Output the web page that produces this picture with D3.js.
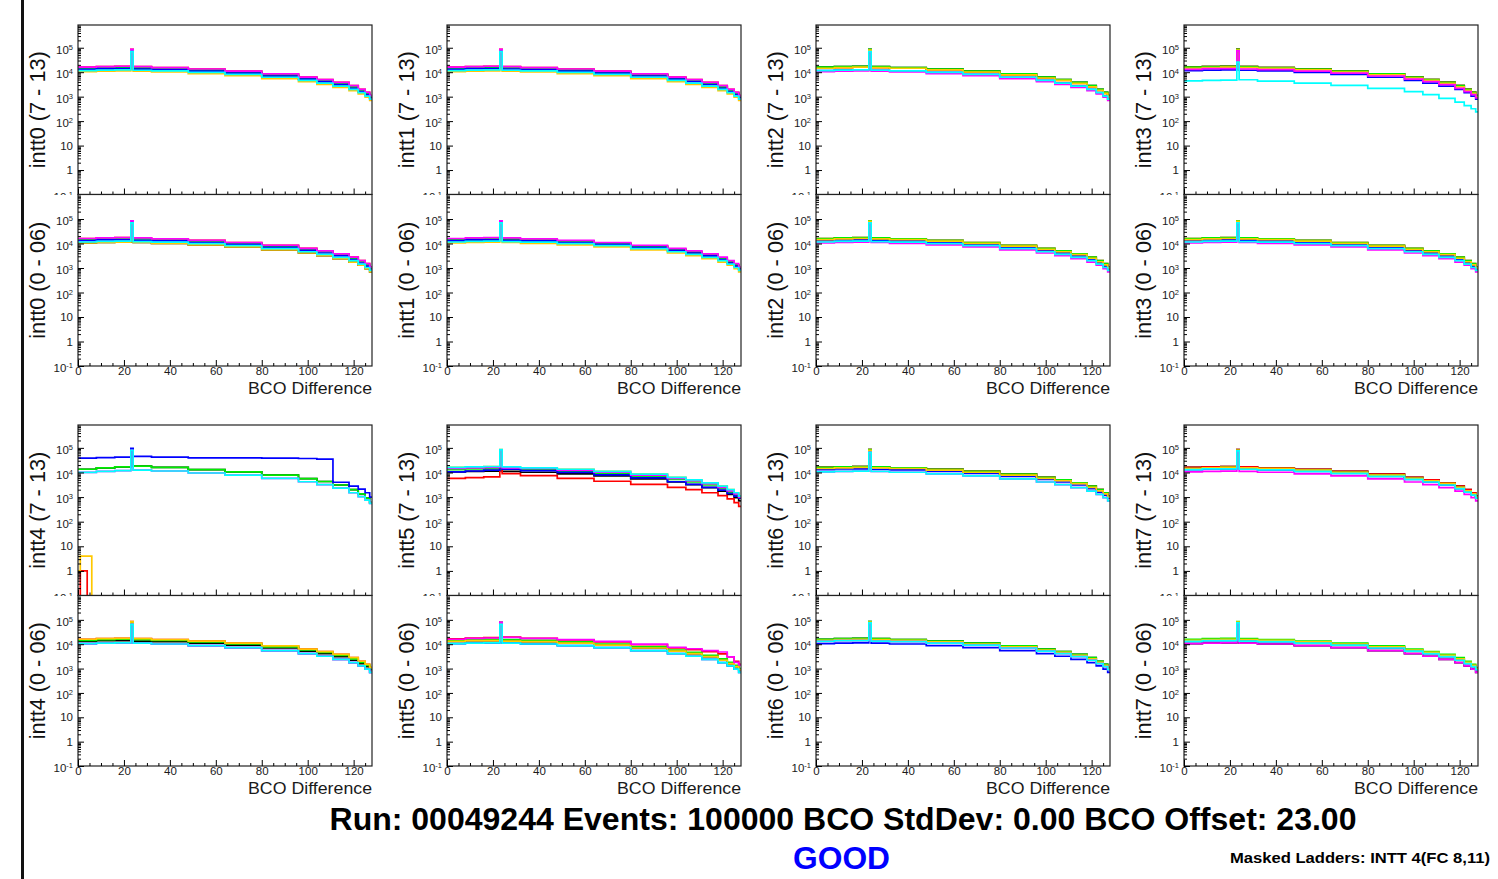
<!DOCTYPE html>
<html><head><meta charset="utf-8">
<script src="https://cdn.jsdelivr.net/npm/d3@7"></script>
<style>
body{margin:0;background:#fff}
svg{display:block}
text{font-family:"Liberation Sans",Arial,Helvetica,sans-serif}
</style>
</head><body><svg id="c" width="1498" height="879"></svg>
<script>
// ---------------- DATA ----------------
const modules = ["intt0","intt1","intt2","intt3","intt4","intt5","intt6","intt7"];
const halves = ["(7 - 13)","(0 - 06)"];
const seriesColors = ["#000000","#ff0000","#00ee00","#0000ff","#ffc800","#ff00ff","#00ffff"];
const xTickValues = [0,20,40,60,80,100,120];
const yTickExps = [-1,0,1,2,3,4,5];

// shared BCO-difference bin edges (variable width, spike bin 23)
const binEdges = [0, 8, 16, 23, 24, 32, 48, 64, 80, 96, 104, 111, 118, 122, 125, 127, 128];
const pHigh  = [16000,17000,17500,85000,17000,15500,13500,11000,8500,6300,5000,3800,2800,2000,1500,1100];
const pUpper = [14500,15500,16000,80000,15500,14500,12500,10200,7800,5800,4600,3500,2500,1800,1350,1000];
const pMid   = [13000,14000,14000,75000,13500,12800,11000,9200,7000,5200,4100,3100,2200,1600,1200,900];
const pLower = [11500,12200,12500,70000,12000,11300,9800,8200,6200,4600,3600,2700,2000,1450,1050,800];
const pLow   = [10500,11000,11300,65000,11000,10200,8800,7300,5500,4100,3200,2400,1750,1300,950,700];
const intt3UpperCyan = [4400,4600,4700,26000,4900,4300,3600,2900,2200,1600,1200,850,600,430,320,240];
const intt4UpperBlue = [38000,40000,42000,95000,45000,42000,39000,39000,38000,37000,35000,4000,2800,2100,1500,1000];
const intt4UpperMain = [13500,15500,17000,75000,18000,16000,13000,10500,7800,5600,4300,3100,2000,1350,900,600];
const intt4UpperLow  = [10000,11000,12000,80000,12500,11500,9500,7800,5800,4200,3200,2300,1500,1050,750,550];
const intt5UpperRed  = [5800,6200,6600,15000,9000,7500,5800,4400,3300,2500,2000,1500,1150,850,600,420];
const intt5UpperBlue = [10500,11500,12500,20000,13500,12000,10000,8000,6000,4200,3300,2500,1900,1400,1100,900];
const intt5LowerRed  = [16500,18000,18500,70000,19500,17500,15000,12500,9500,7000,6000,5000,4000,3000,2000,1500];
const intt5LowerMagenta = [16000,17500,18000,80000,19000,17500,15500,13000,10000,7500,6500,5500,4800,3000,1800,1400];
// masked ladders (intt4 FC 8 and FC 11): almost empty, fine bins near 0
const lowBinEdges = [0, 1, 2, 3, 4, 5, 6, 128];
const intt4UpperRed    = [0, 1, 1, 1, 0, 0, 0];
const intt4UpperYellow = [1, 4, 4, 4, 4, 4, 0];

// per panel: black, red, green, blue, yellow, magenta, cyan
const intt0Upper = [pMid, pHigh, pUpper, pMid, pLow, pHigh, pLower];
const intt0Lower = [pLow, pHigh, pUpper, pMid, pLow, pHigh, pLower];
const intt1Upper = [pUpper, pHigh, pUpper, pMid, pLow, pHigh, pLower];
const intt1Lower = [pMid, pUpper, pUpper, pMid, pLow, pHigh, pLower];
const intt2Upper = [pHigh, pUpper, pHigh, pLower, pUpper, pLow, pLower];
const intt2Lower = [pUpper, pHigh, pHigh, pMid, pUpper, pLow, pLower];
const intt3Upper = [pHigh, pHigh, pHigh, pLower, pUpper, pMid, intt3UpperCyan];
const intt3Lower = [pUpper, pHigh, pHigh, pMid, pUpper, pLow, pLower];
const intt4Upper = [intt4UpperMain, intt4UpperRed, intt4UpperMain, intt4UpperBlue, intt4UpperYellow, intt4UpperLow, intt4UpperLow];
const intt4Lower = [pMid, pHigh, pUpper, pLow, pHigh, pLow, pLow];
const intt5Upper = [pLow, intt5UpperRed, pMid, intt5UpperBlue, pHigh, pUpper, pHigh];
const intt5Lower = [pMid, intt5LowerRed, pUpper, pLow, pMid, intt5LowerMagenta, pLow];
const intt6Upper = [pHigh, pHigh, pHigh, pMid, pUpper, pLow, pLow];
const intt6Lower = [pHigh, pUpper, pHigh, pLow, pUpper, pMid, pMid];
const intt7Upper = [pHigh, pHigh, pUpper, pMid, pUpper, pLow, pMid];
const intt7Lower = [pLow, pUpper, pHigh, pMid, pUpper, pLow, pMid];

const upperPanels = [intt0Upper,intt1Upper,intt2Upper,intt3Upper,intt4Upper,intt5Upper,intt6Upper,intt7Upper];
const lowerPanels = [intt0Lower,intt1Lower,intt2Lower,intt3Lower,intt4Lower,intt5Lower,intt6Lower,intt7Lower];

const titleText = "Run: 00049244 Events: 100000 BCO StdDev: 0.00 BCO Offset: 23.00";
const statusText = "GOOD";
const maskedText = "Masked Ladders: INTT 4(FC 8,11)";

// ---------------- LAYOUT ----------------
const colLeft = [78, 447, 816, 1184];
const padW = 294;
const rows = [{top:25, mid:194.5, bottom:366}, {top:425, mid:595.5, bottom:766}];
const yMin = 0.1, yMaxUpper = 8.5e5, yMaxLower = 1e6;

const svg = d3.select("#c");
svg.append("rect").attr("width",1498).attr("height",879).attr("fill","#fff");
svg.append("rect").attr("x",21).attr("y",0).attr("width",3).attr("height",879).attr("fill","#111");

let clipId = 0;
function drawPad(left, top, bottom, yMax, series, title, isLower) {
  const g = svg.append("g");
  if (isLower) {
    g.append("rect").attr("x", left - 32).attr("y", top + 0.5)
      .attr("width", padW + 33).attr("height", bottom - top + 30).attr("fill", "#fff");
  }
  const xs = d3.scaleLinear().domain([0,128]).range([left, left + padW]);
  const ys = d3.scaleLog().domain([yMin, yMax]).range([bottom, top]);
  const cid = "clip" + (clipId++);
  g.append("clipPath").attr("id", cid).append("rect")
    .attr("x", left).attr("y", top).attr("width", padW).attr("height", bottom - top);

  const hg = g.append("g").attr("clip-path", `url(#${cid})`);
  series.forEach((vals, k) => {
    const edges = vals.length === lowBinEdges.length - 1 ? lowBinEdges : binEdges;
    let d = "";
    vals.forEach((v, j) => {
      const y = v > 0 ? ys(v) : bottom + 5;
      const x0 = xs(edges[j]), x1 = xs(edges[j + 1]);
      d += (j === 0 ? `M${x0},${y}` : `V${y}`) + `H${x1}`;
    });
    hg.append("path").attr("d", d).attr("fill", "none")
      .attr("stroke", seriesColors[k]).attr("stroke-width", 1.7);
  });

  // frame
  g.append("rect").attr("x", left).attr("y", top).attr("width", padW).attr("height", bottom - top)
    .attr("fill", "none").attr("stroke", "#222").attr("stroke-width", 1.2);

  // x axis
  const minorX = d3.range(0, 128, 5).filter(v => v % 20 !== 0);
  const gx = g.append("g").attr("transform", `translate(0,${bottom})`).style("color", "#000");
  gx.call(d3.axisBottom(xs).tickValues(minorX).tickSize(-3).tickFormat(""));
  const gx2 = g.append("g").attr("transform", `translate(0,${bottom})`).style("color", "#000");
  gx2.call(d3.axisBottom(xs).tickValues(xTickValues).tickSize(-6).tickPadding(1)
    .tickFormat(isLower ? d3.format("d") : () => ""));
  [gx, gx2].forEach(a => a.select(".domain").remove());
  gx2.selectAll("text").attr("font-size", "11.5px").attr("fill", "#1a1a1a")
    .attr("font-family", "'Liberation Sans',Arial,sans-serif");

  // y axis
  const minorY = [];
  for (let e = -1; e <= 6; e++) for (let m = 2; m <= 9; m++) {
    const v = m * Math.pow(10, e);
    if (v > yMin && v < yMax) minorY.push(v);
  }
  const gy = g.append("g").attr("transform", `translate(${left},0)`).style("color", "#000");
  gy.call(d3.axisLeft(ys).tickValues(minorY).tickSize(-3).tickFormat(""));
  const gy2 = g.append("g").attr("transform", `translate(${left},0)`).style("color", "#000");
  gy2.call(d3.axisLeft(ys).tickValues(yTickExps.map(e => Math.pow(10, e))).tickSize(-6).tickPadding(5));
  [gy, gy2].forEach(a => a.select(".domain").remove());
  gy2.selectAll(".tick text").each(function(d) {
    const e = Math.round(Math.log10(d));
    const t = d3.select(this).text(null).attr("font-size", "11.5px").attr("fill", "#1a1a1a")
      .attr("font-family", "'Liberation Sans',Arial,sans-serif");
    if (e === 0) t.text("1");
    else if (e === 1) t.text("10");
    else {
      t.attr("dy", "0.5em").text("10");
      t.append("tspan").attr("dy", "-0.55em").attr("font-size", "7.5px").text(e);
    }
  });

  // titles
  g.append("text").attr("transform", `translate(${left - 33},${(top + bottom) / 2}) rotate(-90)`)
    .attr("text-anchor", "middle").attr("font-size", "22px").attr("fill", "#111")
    .attr("textLength", 117).attr("lengthAdjust", "spacingAndGlyphs").text(title);
  if (isLower) {
    g.append("text").attr("x", left + padW).attr("y", bottom + 28).attr("text-anchor", "end")
      .attr("font-size", "17px").attr("fill", "#1a1a1a")
      .attr("textLength", 124).attr("lengthAdjust", "spacingAndGlyphs").text("BCO Difference");
  }
}

modules.forEach((m, i) => {
  const row = rows[Math.floor(i / 4)], left = colLeft[i % 4];
  drawPad(left, row.top, row.mid, yMaxUpper, upperPanels[i], m + " " + halves[0], false);
  drawPad(left, row.mid, row.bottom, yMaxLower, lowerPanels[i], m + " " + halves[1], true);
});

svg.append("text").attr("x", 843).attr("y", 830).attr("text-anchor", "middle")
  .attr("font-size", "31px").attr("font-weight", "bold").attr("fill", "#000")
  .attr("textLength", 1027).attr("lengthAdjust", "spacingAndGlyphs").text(titleText);
svg.append("text").attr("x", 841.5).attr("y", 869).attr("text-anchor", "middle")
  .attr("font-size", "31px").attr("font-weight", "bold").attr("fill", "#0000ff")
  .attr("textLength", 97).attr("lengthAdjust", "spacingAndGlyphs").text(statusText);
svg.append("text").attr("x", 1230).attr("y", 863)
  .attr("font-size", "14.5px").attr("font-weight", "bold").attr("fill", "#000")
  .attr("textLength", 260).attr("lengthAdjust", "spacingAndGlyphs").text(maskedText);
</script>
</body></html>
